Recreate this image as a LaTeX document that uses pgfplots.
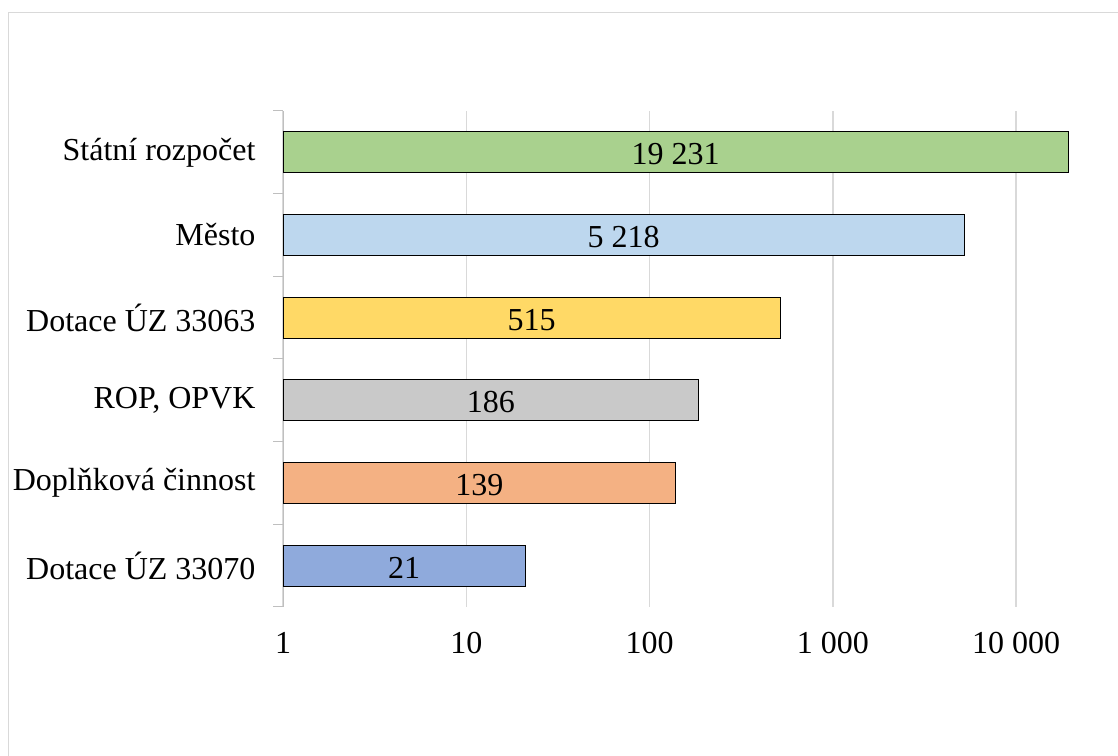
\documentclass[border=0pt]{standalone}
\usepackage{fontspec}
\setmainfont{Liberation Serif}
\usepackage{pgfplots}
\usepackage{pgfplotstable}
\pgfplotsset{compat=1.18}
\definecolor{cgreen}{HTML}{A9D18E}
\definecolor{clblue}{HTML}{BDD7EE}
\definecolor{cyellow}{HTML}{FFD966}
\definecolor{cgray}{HTML}{C9C9C9}
\definecolor{corange}{HTML}{F4B183}
\definecolor{cblue}{HTML}{8FAADC}
\definecolor{gridc}{HTML}{D9D9D9}
\definecolor{axisc}{HTML}{BFBFBF}
\pgfplotstableread{
y v
6 19231
5 5218
4 515
3 186
2 139
1 21
}\datatable
\begin{document}
\begin{tikzpicture}[x=1bp,y=1bp,font=\fontsize{32bp}{36bp}\selectfont]
\useasboundingbox (0,0) rectangle (1118,756);
\draw[gridc, line width=1.5bp] (8.5,-20) -- (8.5,743.5) -- (1140,743.5);
\begin{axis}[
  at={(283bp,149bp)}, anchor=south west,
  scale only axis, width=806.5bp, height=496bp,
  xmode=log, xmin=1, xmax=25119,
  ymin=0.5, ymax=6.5,
  axis lines*=left,
  x axis line style={draw=none},
  y axis line style={axisc, line width=1bp},
  xtick={1,10,100,1000,10000},
  xticklabels={1,10,100,1 000,10 000},
  xmajorgrids, grid style={gridc, line width=1.5bp},
  major tick length=0pt,
  ytick={1,2,3,4,5,6},
  yticklabels={Dotace ÚZ 33070,Doplňková činnost,{ROP, OPVK},Dotace ÚZ 33063,Město,Státní rozpočet},
  minor ytick={0.5,1.5,...,6.5},
  minor tick length=10bp,
  tick align=outside,
  minor tick style={axisc, line width=1bp},
  xticklabel style={yshift=-22bp},
  yticklabel style={xshift=-24bp},
  log basis x=10,
  clip=false,
]
\addplot[xbar, bar width=41bp, bar shift=0pt, fill=cblue, draw=black, line width=1bp] coordinates {(21,1)};
\addplot[xbar, bar width=41bp, bar shift=0pt, fill=corange, draw=black, line width=1bp] coordinates {(139,2)};
\addplot[xbar, bar width=41bp, bar shift=0pt, fill=cgray, draw=black, line width=1bp] coordinates {(186,3)};
\addplot[xbar, bar width=41bp, bar shift=0pt, fill=cyellow, draw=black, line width=1bp] coordinates {(515,4)};
\addplot[xbar, bar width=41bp, bar shift=0pt, fill=clblue, draw=black, line width=1bp] coordinates {(5218,5)};
\addplot[xbar, bar width=41bp, bar shift=0pt, fill=cgreen, draw=black, line width=1bp] coordinates {(19231,6)};
\addplot[draw=none, mark=none, nodes near coords, point meta=explicit,
  nodes near coords style={anchor=center, inner sep=0pt, yshift=-2bp},
  /pgf/number format/.cd, fixed, precision=0, 1000 sep={\ }, assume math mode=true]
  table[x expr={sqrt(\thisrow{v})}, y=y, meta=v] {\datatable};
\end{axis}
\end{tikzpicture}
\end{document}
